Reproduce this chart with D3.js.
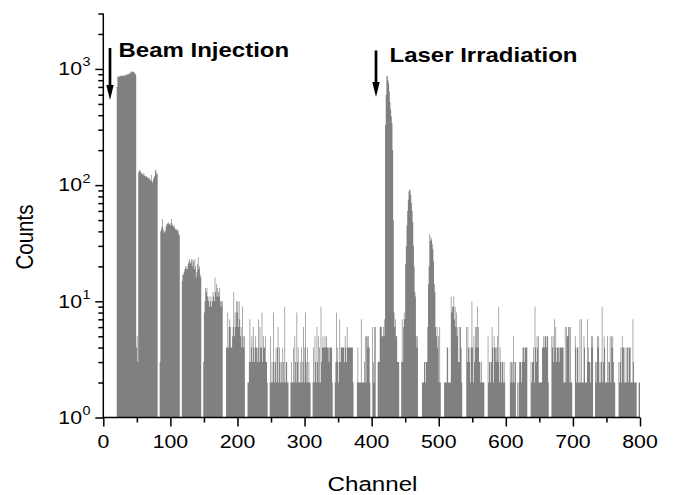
<!DOCTYPE html>
<html>
<head>
<meta charset="utf-8">
<script src="https://cdn.jsdelivr.net/npm/d3@7"></script>
<style>
  body { margin: 0; background: #fff; }
  text { font-family: "Liberation Sans", Arial, Helvetica, sans-serif; fill: #000; }
</style>
</head>
<body>
<div id="chart"></div>
<script>
// counts per channel (channels 0-199, 200-399, 400-599, 600-799)
var countsA = [
  0,0,0,0,0,0,0,0,0,0,0,0,0,0,0,0,0,0,0,0,
  700,860,850,870,860,875,870,880,865,885,870,880,890,875,900,885,910,900,920,905,
  930,950,935,955,940,945,925,910,890,4,5,3,128,135,133,131,126,128,124,122,
  127,120,121,118,119,116,117,114,116,111,110,122,108,105,112,116,120,133,136,124,
  126,0,0,0,3,40,42,44,51,40,42,39,40,44,46,47,46,48,46,47,
  45,51,47,45,44,45,43,42,41,42,40,41,38,37,0,0,0,15,17,17,
  18,19,20,19,20,19,21,22,23,21,22,23,20,23,22,19,23,20,16,18,
  21,24,19,20,17,16,0,0,0,3,8,10,13,12,13,11,10,11,9,10,
  11,9,10,12,11,10,16,12,14,11,13,12,11,13,10,9,10,10,0,0,
  0,0,0,4,4,8,4,6,7,6,4,4,5,6,12,5,8,6,10,8
];
var countsB = [
  10,6,10,7,5,6,4,9,5,4,5,0,0,0,0,2,2,3,7,3,
  4,5,3,6,4,3,5,4,4,3,4,7,3,6,4,4,8,3,5,4,
  4,5,3,3,2,0,0,0,2,5,2,3,2,8,3,2,3,4,2,4,
  6,2,4,3,2,3,2,4,3,2,9,2,3,3,2,2,0,0,0,2,
  3,2,2,4,2,5,3,2,8,3,4,2,2,3,2,4,2,3,6,2,
  4,8,3,2,4,2,3,2,2,0,0,0,2,4,2,5,3,2,6,3,
  5,2,4,2,9,3,4,5,4,4,5,4,5,4,4,4,3,4,4,4,
  4,2,0,0,0,2,3,8,3,4,2,3,7,3,4,4,4,4,4,3,
  5,4,3,6,4,4,4,4,4,4,4,4,2,0,0,0,0,0,2,4,
  2,2,2,2,7,2,2,2,2,3,5,2,5,5,4,5,4,2,0,0
];
var countsC = [
  0,6,3,2,6,6,0,0,0,3,3,3,6,6,6,5,5,6,5,7,
  330,600,860,870,800,750,640,520,450,390,340,200,50,8,6,7,5,5,3,3,
  3,0,0,0,3,7,3,6,8,7,21,30,45,60,75,88,92,90,82,70,
  60,48,30,20,12,11,5,4,5,0,0,0,0,0,0,2,2,2,3,3,
  2,3,3,6,14,20,38,33,36,34,31,28,22,14,12,6,5,6,4,5,
  2,6,2,0,0,0,0,0,2,2,2,2,4,4,2,2,2,2,11,8,
  9,9,11,7,9,6,8,5,6,3,3,6,6,4,2,0,0,0,0,0,
  0,6,3,6,4,3,4,2,4,10,4,2,5,3,6,4,6,9,4,6,
  3,3,2,3,2,2,2,2,0,0,0,0,0,5,2,3,3,2,3,6,
  4,2,5,4,4,3,4,5,3,9,2,4,3,2,3,3,2,3,2,0
];
var countsD = [
  0,0,0,0,0,0,3,2,3,3,2,5,2,3,3,0,0,2,0,2,
  3,3,3,2,3,4,4,3,4,4,4,4,0,0,0,0,0,3,2,3,
  3,4,2,9,4,3,5,4,5,2,2,2,2,2,4,4,5,4,5,5,
  4,5,5,2,0,0,0,0,5,4,5,3,7,4,6,3,4,4,4,3,
  4,4,4,4,4,4,2,2,6,2,6,5,5,6,6,2,6,2,2,0,
  0,0,0,5,4,2,4,4,2,2,7,2,7,2,2,2,5,4,2,2,
  2,7,3,4,3,3,2,5,4,5,0,0,0,3,2,3,5,4,5,2,
  3,2,3,9,2,3,5,4,2,2,2,5,2,3,3,5,2,5,4,5,
  3,2,2,0,0,0,0,0,3,2,3,4,2,5,4,4,2,4,2,2,
  4,4,2,4,4,4,2,2,2,7,3,2,2,2,2,0,0,0,2,2
];

var xMajor = [0, 100, 200, 300, 400, 500, 600, 700, 800];
var xMinor = [50, 150, 250, 350, 450, 550, 650, 750];
var yDecades = [0, 1, 2, 3];
var yMinor = [2,3,4,5,6,7,8,9,20,30,40,50,60,70,80,90,200,300,400,500,600,700,800,900,2000,3000];

var annotations = [
  { text: "Beam Injection", channel: 10, tx: 118.5, ty: 57, top: 48, tip: 100 },
  { text: "Laser Irradiation", channel: 407, tx: 389.5, ty: 61.5, top: 50.5, tip: 97 }
];

var width = 673, height = 495;
var SX = 1.15; // fonts in the picture are slightly wide

var svg = d3.select("#chart").append("svg")
  .attr("width", width)
  .attr("height", height);

var x = d3.scaleLinear().domain([0, 800]).range([103.3, 640]);
var y = d3.scaleLog().domain([1, 3000]).range([417.5, 13.5]);

var counts = countsA.concat(countsB, countsC, countsD);
var bins = counts.map(function (c, i) { return { ch: i, c: c }; });
bins.push({ ch: 800, c: 0 });

// histogram as one stepped area
var area = d3.area()
  .curve(d3.curveStepAfter)
  .x(function (d) { return x(d.ch); })
  .y0(y(1))
  .y1(function (d) { return d.c >= 1 ? y(d.c) : y(1); });

svg.append("path")
  .datum(bins)
  .attr("fill", "#808080")
  .attr("d", area);

function label(parent, px, py, str, size, opts) {
  opts = opts || {};
  var g = parent.append("g")
    .attr("transform", "translate(" + px + "," + py + ") scale(" + (opts.sx || SX) + ",1)" +
      (opts.rotate ? " rotate(" + opts.rotate + ")" : ""));
  g.append("text")
    .attr("text-anchor", opts.anchor || "start")
    .attr("font-size", size)
    .attr("font-weight", opts.weight || "normal")
    .text(str);
  return g;
}

// axes
var axisStyle = function (g) {
  g.selectAll("path, line").attr("stroke", "#000").attr("stroke-width", 1.5);
  g.select(".domain").remove();
};

svg.append("g")
  .attr("transform", "translate(0," + y(1) + ")")
  .call(d3.axisBottom(x).tickValues(xMajor).tickSize(9).tickFormat(""))
  .call(axisStyle);
svg.append("g")
  .attr("transform", "translate(0," + y(1) + ")")
  .call(d3.axisBottom(x).tickValues(xMinor).tickSize(5).tickFormat(""))
  .call(axisStyle);

svg.append("g")
  .attr("transform", "translate(" + x(0) + ",0)")
  .call(d3.axisLeft(y).tickValues(yDecades.map(function (k) { return Math.pow(10, k); })).tickSize(8).tickFormat(""))
  .call(axisStyle);
svg.append("g")
  .attr("transform", "translate(" + x(0) + ",0)")
  .call(d3.axisLeft(y).tickValues(yMinor).tickSize(5).tickFormat(""))
  .call(axisStyle);

// axis lines
svg.append("line")
  .attr("x1", x(0)).attr("x2", x(800))
  .attr("y1", y(1)).attr("y2", y(1))
  .attr("stroke", "#000").attr("stroke-width", 1.5);
svg.append("line")
  .attr("x1", x(0)).attr("x2", x(0))
  .attr("y1", y(1) + 0.75).attr("y2", y(3000))
  .attr("stroke", "#000").attr("stroke-width", 1.5);

// tick labels
xMajor.forEach(function (v) {
  label(svg, x(v), 448, String(v), 18.5, { anchor: "middle" });
});
yDecades.forEach(function (k) {
  var ty = y(Math.pow(10, k));
  label(svg, 82, ty + 6.3, "10", 18.5, { anchor: "end" });
  label(svg, 82.6, ty - 2.5, String(k), 12.5);
});

// axis titles
label(svg, 372.5, 491, "Channel", 21, { anchor: "middle" });
label(svg, 33, 237, "Counts", 20.5, { anchor: "middle", rotate: -90 });

// arrows + labels
annotations.forEach(function (a) {
  var ax = a.channel === 10 ? 110 : 376;
  svg.append("line")
    .attr("x1", ax).attr("x2", ax)
    .attr("y1", a.top).attr("y2", a.tip - 12)
    .attr("stroke", "#000").attr("stroke-width", 2.7);
  svg.append("path")
    .attr("d", "M" + (ax - 3.7) + "," + (a.tip - 15) + "L" + (ax + 3.7) + "," + (a.tip - 15) + "L" + ax + "," + a.tip + "Z")
    .attr("fill", "#000");
  label(svg, a.tx, a.ty, a.text, 20, { weight: "bold", sx: 1.2 });
});
</script>
</body>
</html>
